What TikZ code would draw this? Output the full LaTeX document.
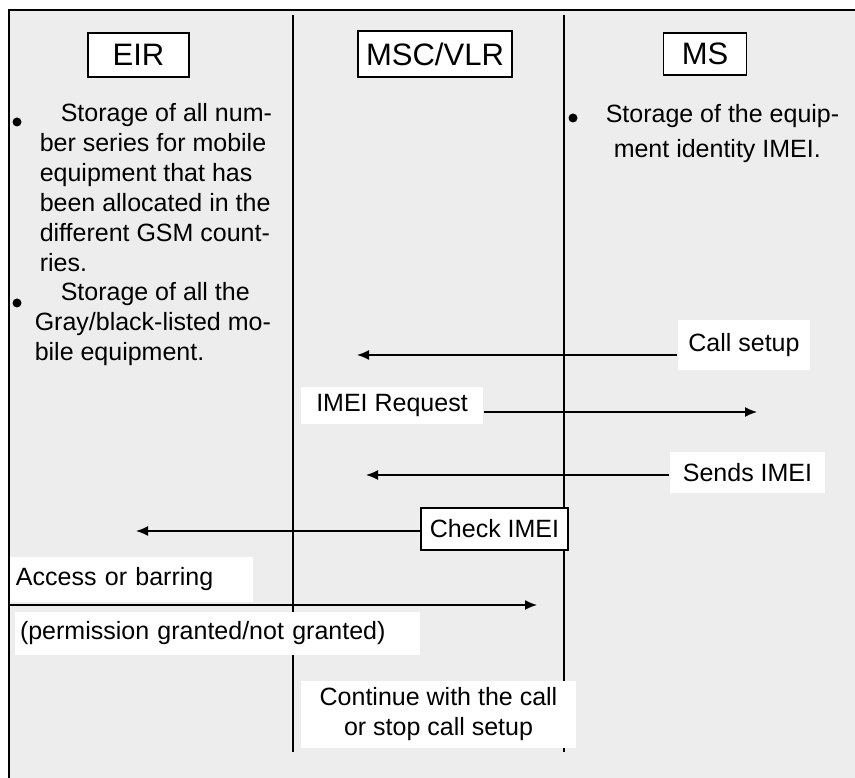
\documentclass[tikz,border=0pt]{standalone}
\usepackage{fontspec}
\setmainfont{Liberation Sans}
\usetikzlibrary{arrows.meta,positioning}
\definecolor{panelgray}{HTML}{EDEDED}

\begin{document}
\begin{tikzpicture}[
			x=1pt, y=-1pt,
			line width=1.5pt,
			>={Latex[length=12pt,width=10pt]},
			entity/.style={draw, fill=white, inner sep=0pt, font={\fontsize{31}{36}\selectfont}},
			msg/.style={fill=white, inner sep=0pt, font={\fontsize{25}{30}\selectfont}},
			note/.style={anchor=north west, align=left, inner sep=0pt, font={\fontsize{25}{30}\selectfont}},
			dot/.style={circle, fill, inner sep=0pt, minimum size=9pt}
	]
	\useasboundingbox (0,0) rectangle (855,778);
	\fill[white] (0,0) rectangle (855,778);
	\fill[panelgray] (9,10) rectangle (855,778);
	% frame
	\draw (8,10) -- (855,10);
	\draw (9,10) -- (9,778);

	% column separators
	\coordinate (sepa top) at (293,15);
	\coordinate (sepa bot) at (293,752);
	\coordinate (sepb top) at (564,15);
	\coordinate (sepb bot) at (564,752);
	\draw (sepa top) -- (sepa bot);
	\draw (sepb top) -- (sepb bot);

	% entities
	\node[entity, minimum width=101pt, minimum height=44pt] (eir) at (138.5,55) {EIR};
	\node[entity, minimum width=154pt, minimum height=46pt] (msc) at (435,54) {MSC/VLR};
	\node[entity, minimum width=83pt, minimum height=42pt] (ms) at (705,54) {MS};

	% stored data
	\node[dot] (eir dot1) at (17,122) {};
	\node[note] (eir note1) at (39,103) {\hspace*{21pt}Storage of all num-\\ber series for mobile\\equipment that has\\been allocated in the\\different GSM count-\\ries.};
	\node[dot] (eir dot2) at (17,303) {};
	\node[note] (eir note2) at (34,282) {\hspace*{26pt}Storage of all the\\Gray/black-listed mo-\\bile equipment.};
	\node[dot] (ms dot) at (573,118) {};
	\node[note] (ms note) at (605,104) {Storage of the equip-\\[5pt]\hspace*{8pt}ment identity IMEI.};

	% messages
	\node[msg, minimum width=132pt, minimum height=50pt] (callsetup) at (744,345) {Call setup};
	\node[msg, minimum width=182pt, minimum height=37pt] (imeireq) at (392,405.5) {IMEI Request};
	\node[msg, minimum width=155pt, minimum height=41pt] (sendsimei) at (747.5,472.5) {Sends IMEI};
	\node[msg, draw, minimum width=147pt, minimum height=42pt] (checkimei) at (494.5,529) {Check IMEI};
	\node[msg, text width=231pt, inner xsep=6pt, minimum height=45pt, align=left] (access) at (131.5,579.5) {Access or barring};
	\node[msg, text width=395pt, inner xsep=5pt, minimum height=43pt, align=left] (permission) at (217.5,633.5) {(permission granted/not granted)};
	\node[msg, minimum width=275pt, minimum height=67pt, align=center] (continue) at (438.5,714.5) {Continue with the call\\or stop call setup};

	\coordinate (call end) at (357,355);
	\coordinate (req end) at (757,412);
	\coordinate (send end) at (366,475);
	\coordinate (check end) at (136,531);
	\coordinate (access start) at (9,605);
	\coordinate (access end) at (537,605);
	\draw[->] (callsetup.west |- call end) -- (call end);
	\draw[->] (imeireq.east |- req end) -- (req end);
	\draw[->] (sendsimei.west |- send end) -- (send end);
	\draw[->] (checkimei.west |- check end) -- (check end);
	\draw[->] (access start) -- (access end);
\end{tikzpicture}
\end{document}
